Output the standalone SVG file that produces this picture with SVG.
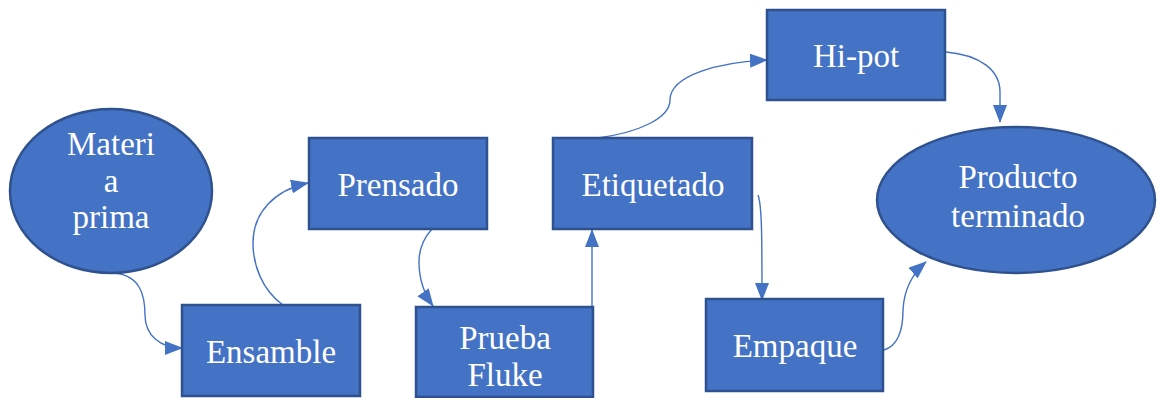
<svg xmlns="http://www.w3.org/2000/svg" width="1157" height="398" viewBox="0 0 1157 398">
<defs>
<style>
.n{fill:#4472C4;stroke:#2F528F;stroke-width:2.5}
.t{fill:#ffffff;font-family:"Liberation Serif","DejaVu Serif",serif;font-size:33px;text-anchor:middle}
.c{fill:none;stroke:#4472C4;stroke-width:1.4}
</style>
<marker id="a" viewBox="0 0 18 14" refX="17" refY="7" markerWidth="18" markerHeight="14" markerUnits="userSpaceOnUse" orient="auto">
<path d="M0,0 L18,7 L0,14 Z" fill="#4472C4"/>
</marker>
</defs>
<rect width="1157" height="398" fill="#ffffff"/>
<g id="connectors">
<path class="c" marker-end="url(#a)" d="M110,273 C140,273 145,295 145,315 C145,335 160,348 182,348"/>
<path class="c" marker-end="url(#a)" d="M283,305 C262,290 253,265 253,243 C253,212 275,190 308,183"/>
<path class="c" marker-end="url(#a)" d="M432,229 C422,240 419,250 419,262 C419,280 425,295 433,306"/>
<path class="c" marker-end="url(#a)" d="M592,307 L592,230"/>
<path class="c" marker-end="url(#a)" d="M598,138 C640,132 670,118 670,100 C670,75 720,62 767,60"/>
<path class="c" marker-end="url(#a)" d="M758,195 C762,205 762,240 762,300"/>
<path class="c" marker-end="url(#a)" d="M946,52 C980,55 1000,70 1000,92 L1000,122"/>
<path class="c" marker-end="url(#a)" d="M884,350 C900,345 903,325 903,310 C904,290 912,274 926,262"/>
</g>
<g id="materia-prima">
<ellipse class="n" cx="111" cy="191" rx="101" ry="82"/>
<text class="t" x="111" y="155">Materi</text>
<text class="t" x="111" y="192">a</text>
<text class="t" x="111" y="228">prima</text>
</g>
<g id="ensamble">
<rect class="n" x="182" y="305" width="178" height="91"/>
<text class="t" x="271" y="363">Ensamble</text>
</g>
<g id="prensado">
<rect class="n" x="309" y="138" width="178" height="91"/>
<text class="t" x="398" y="196">Prensado</text>
</g>
<g id="prueba-fluke">
<rect class="n" x="416" y="307" width="177" height="90"/>
<text class="t" x="505" y="349">Prueba</text>
<text class="t" x="505" y="386">Fluke</text>
</g>
<g id="etiquetado">
<rect class="n" x="553" y="138" width="199" height="91"/>
<text class="t" x="653" y="196">Etiquetado</text>
</g>
<g id="hi-pot">
<rect class="n" x="767" y="10" width="178" height="90"/>
<text class="t" x="856" y="67">Hi-pot</text>
</g>
<g id="empaque">
<rect class="n" x="706" y="299" width="177" height="92"/>
<text class="t" x="795" y="357">Empaque</text>
</g>
<g id="producto-terminado">
<ellipse class="n" cx="1016" cy="200" rx="139" ry="73"/>
<text class="t" x="1018" y="188">Producto</text>
<text class="t" x="1018" y="227">terminado</text>
</g>
</svg>
